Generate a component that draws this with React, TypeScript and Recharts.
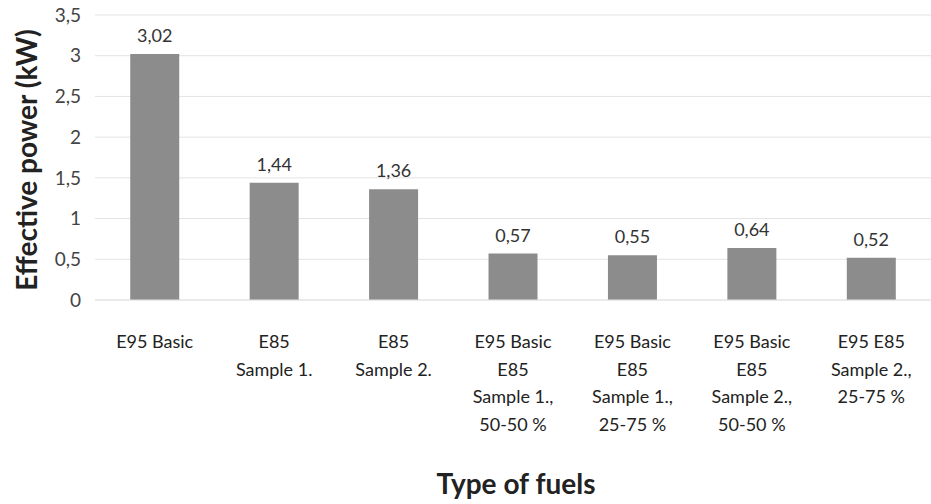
import { BarChart, Bar, XAxis, YAxis, CartesianGrid, LabelList } from 'recharts';

const categories = [
  ['E95 Basic'],
  ['E85', 'Sample 1.'],
  ['E85', 'Sample 2.'],
  ['E95 Basic', 'E85', 'Sample 1.,', '50-50 %'],
  ['E95 Basic', 'E85', 'Sample 1.,', '25-75 %'],
  ['E95 Basic', 'E85', 'Sample 2.,', '50-50 %'],
  ['E95 E85', 'Sample 2.,', '25-75 %'],
];
const power = [3.02, 1.44, 1.36, 0.57, 0.55, 0.64, 0.52];
const yTicks = [0, 0.5, 1, 1.5, 2, 2.5, 3, 3.5];

const font = 'Lato, "Open Sans", sans-serif';

const fmt = (v: number) => String(v).replace('.', ',');

const data = categories.map((lines, i) => ({ name: lines.join('|'), power: power[i] }));

function FuelTick({ x, y, payload }: any) {
  const lines = String(payload.value).split('|');
  return (
    <text x={x} y={y + 40} textAnchor="middle" fontSize={18} fill="#222" fontFamily={font}>
      {lines.map((l, i) => (
        <tspan key={i} x={x} dy={i === 0 ? 0 : 27.5}>
          {l}
        </tspan>
      ))}
    </text>
  );
}

export default function App() {
  return (
    <div style={{ position: 'absolute', left: 0, top: 0, width: 931, height: 504, background: '#fff' }}>
      <BarChart
        width={931}
        height={504}
        data={data}
        margin={{ top: 15, right: 0, left: 35, bottom: 174 }}
        barCategoryGap="29.5%"
      >
        <CartesianGrid vertical={false} stroke="#e3e3e3" />
        <XAxis
          dataKey="name"
          tick={<FuelTick />}
          tickLine={false}
          axisLine={{ stroke: '#e3e3e3' }}
          interval={0}
          height={30}
        />
        <YAxis
          domain={[0, 3.5]}
          ticks={yTicks}
          tickFormatter={fmt}
          tick={{ fontSize: 19, fill: '#444', fontFamily: font }}
          axisLine={false}
          tickLine={false}
          width={60}
          tickMargin={8}
        />
        <Bar dataKey="power" fill="#8c8c8c" isAnimationActive={false}>
          <LabelList
            dataKey="power"
            position="top"
            offset={12}
            formatter={(v: any) => fmt(v)}
            style={{ fontSize: 18, fill: '#333', fontFamily: font }}
          />
        </Bar>
        <text
          x={26}
          y={160}
          transform="rotate(-90 26 160)"
          textAnchor="middle"
          dominantBaseline="central"
          fontSize={28}
          fontWeight="bold"
          fill="#222"
          fontFamily={font}
        >
          Effective power (kW)
        </text>
        <text
          x={516}
          y={483}
          textAnchor="middle"
          dominantBaseline="central"
          fontSize={28}
          fontWeight="bold"
          fill="#222"
          fontFamily={font}
        >
          Type of fuels
        </text>
      </BarChart>
    </div>
  );
}
